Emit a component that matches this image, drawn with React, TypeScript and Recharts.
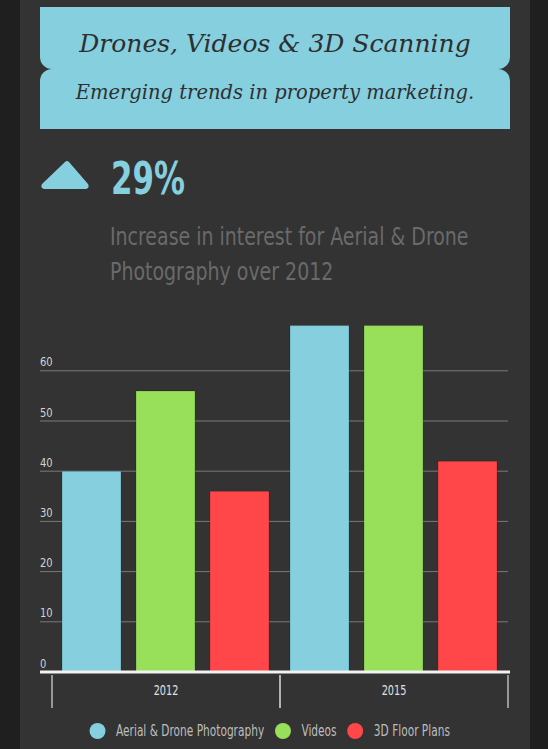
import React from 'react';
import { Bar, BarChart, CartesianGrid, ReferenceLine, XAxis, YAxis } from 'recharts';

const categories = ['2012', '2015'];
const aerialValues = [40, 69];
const videoValues = [56, 69];
const floorPlanValues = [36, 42];
const yTicks = [0, 10, 20, 30, 40, 50, 60];

const seriesKeys = ['aerial', 'videos', 'floorPlans'];
const seriesNames = ['Aerial & Drone Photography', 'Videos', '3D Floor Plans'];
const seriesColors = ['#86CFDF', '#98E05A', '#FF474A'];

const data = categories.map((year, i) => ({
  year,
  aerial: aerialValues[i],
  videos: videoValues[i],
  floorPlans: floorPlanValues[i],
}));

// DejaVu Sans Condensed, squeezed a bit more to look like a narrow sans
const NARROW = "'DejaVu Sans Condensed', 'DejaVu Sans', sans-serif";
const SERIF = "'DejaVu Serif', 'Liberation Serif', serif";
const BLUE = '#86CFDF';
const GRID_LEFT = 40;
const SQUEEZE = 0.8;

const YTick = (props: any) => {
  const { y, payload } = props;
  return (
    <text
      transform={`translate(${GRID_LEFT},${y - 4.5}) scale(0.85,1)`}
      fill="#d4d4d4"
      fontSize={13}
      fontFamily={NARROW}
      fontStretch="condensed"
    >
      {payload.value}
    </text>
  );
};

const XTick = (props: any) => {
  const { x, y, payload, width, visibleTicksCount } = props;
  const half = width && visibleTicksCount ? width / visibleTicksCount / 2 : 114;
  return (
    <g>
      <line x1={x - half} y1={y + 3} x2={x - half} y2={y + 36} stroke="#bbbbbb" strokeWidth={1.5} />
      <line x1={x + half} y1={y + 3} x2={x + half} y2={y + 36} stroke="#bbbbbb" strokeWidth={1.5} />
      <text
        transform={`translate(${x},${y + 23}) scale(${SQUEEZE},1)`}
        textAnchor="middle"
        fill="#e0e0e0"
        fontSize={13.5}
        fontFamily={NARROW}
        fontStretch="condensed"
      >
        {payload.value}
      </text>
    </g>
  );
};

const GridLine = (props: any) => (
  <line
    key={`g-${props.index}`}
    x1={GRID_LEFT}
    y1={props.y1}
    x2={props.x2}
    y2={props.y2}
    stroke="#7a7a7a"
    strokeWidth={1}
  />
);

const BaseLine = (props: any) => (
  <line x1={GRID_LEFT} y1={props.y1} x2={510} y2={props.y2} stroke="#f2f2f2" strokeWidth={3} />
);

const narrowText: React.CSSProperties = {
  fontFamily: NARROW,
  fontStretch: 'condensed',
  transformOrigin: 'left top',
  whiteSpace: 'nowrap',
};

export default function App() {
  return (
    <div
      style={{
        position: 'absolute',
        left: 0,
        top: 0,
        width: 548,
        height: 749,
        background: '#1f1f1f',
        overflow: 'hidden',
      }}
    >
      <div style={{ position: 'absolute', left: 20, top: 0, width: 510, height: 749, background: '#333333' }} />

      {/* header ribbon */}
      <div
        style={{
          position: 'absolute',
          left: 40,
          top: 7,
          width: 470,
          height: 62,
          background: BLUE,
          borderBottomLeftRadius: 12,
          borderBottomRightRadius: 12,
        }}
      />
      <div
        style={{
          position: 'absolute',
          left: 40,
          top: 69,
          width: 470,
          height: 60,
          background: BLUE,
          borderTopLeftRadius: 12,
          borderTopRightRadius: 12,
        }}
      />
      <div
        style={{
          position: 'absolute',
          left: 40,
          top: 27,
          width: 470,
          textAlign: 'center',
          fontFamily: SERIF,
          fontStyle: 'italic',
          fontSize: 25,
          color: '#2f2f2f',
          lineHeight: '34px',
        }}
      >
        Drones, Videos &amp; 3D Scanning
      </div>
      <div
        style={{
          position: 'absolute',
          left: 40,
          top: 80,
          width: 470,
          textAlign: 'center',
          fontFamily: SERIF,
          fontStyle: 'italic',
          fontSize: 19.5,
          color: '#2f2f2f',
          lineHeight: '26px',
        }}
      >
        Emerging trends in property marketing.
      </div>

      {/* stat */}
      <svg style={{ position: 'absolute', left: 38, top: 158 }} width={56} height={34}>
        <path d="M27 4 Q29 2 31 4 L50 26 Q52 30 48 31 L6 31 Q2 30 4 26 Z" fill={BLUE} />
      </svg>
      <div
        style={{
          ...narrowText,
          position: 'absolute',
          left: 111,
          top: 154,
          fontWeight: 'bold',
          fontSize: 44,
          color: BLUE,
          lineHeight: '50px',
          transform: 'scaleX(0.78)',
        }}
      >
        29%
      </div>
      <div
        style={{
          ...narrowText,
          position: 'absolute',
          left: 110,
          top: 219,
          fontSize: 24.5,
          color: '#6a6a6a',
          lineHeight: '35px',
          transform: 'scaleX(0.86)',
        }}
      >
        Increase in interest for Aerial &amp; Drone
        <br />
        Photography over 2012
      </div>

      {/* chart */}
      <div style={{ position: 'absolute', left: 0, top: 300 }}>
        <BarChart
          width={548}
          height={408}
          data={data}
          margin={{ top: 20.6, right: 40, bottom: 0, left: 40 }}
          barCategoryGap={10}
          barGap={15}
        >
          <CartesianGrid vertical={false} horizontal={GridLine} horizontalValues={yTicks} />
          <XAxis
            dataKey="year"
            height={36}
            axisLine={false}
            tickLine={false}
            tickSize={0}
            tickMargin={0}
            tick={XTick}
            interval={0}
          />
          <YAxis
            width={12}
            domain={[0, 70]}
            ticks={yTicks}
            axisLine={false}
            tickLine={false}
            tick={YTick}
            interval={0}
          />
          {seriesKeys.map((key, i) => (
            <Bar
              key={key}
              dataKey={key}
              name={seriesNames[i]}
              fill={seriesColors[i]}
              stroke="rgba(0,0,0,0.18)"
              strokeWidth={1}
              isAnimationActive={false}
            />
          ))}
          <ReferenceLine y={0} shape={BaseLine} />
        </BarChart>
      </div>

      {/* legend: whole row squeezed horizontally, circles pre-widened so they stay round */}
      <div
        style={{
          position: 'absolute',
          left: 0,
          top: 722,
          width: 548,
          display: 'flex',
          justifyContent: 'center',
          alignItems: 'center',
          fontFamily: NARROW,
          fontStretch: 'condensed',
          fontSize: 15.5,
          color: '#bdbdbd',
          transform: 'translateX(1px) scaleX(0.76)',
          transformOrigin: 'center top',
        }}
      >
        {seriesNames.map((name, i) => (
          <div key={name} style={{ display: 'flex', alignItems: 'center', marginRight: 14 }}>
            <span
              style={{
                display: 'inline-block',
                width: 21,
                height: 16,
                borderRadius: '50%',
                background: seriesColors[i],
                marginRight: 14,
              }}
            />
            <span>{name}</span>
          </div>
        ))}
      </div>
    </div>
  );
}
